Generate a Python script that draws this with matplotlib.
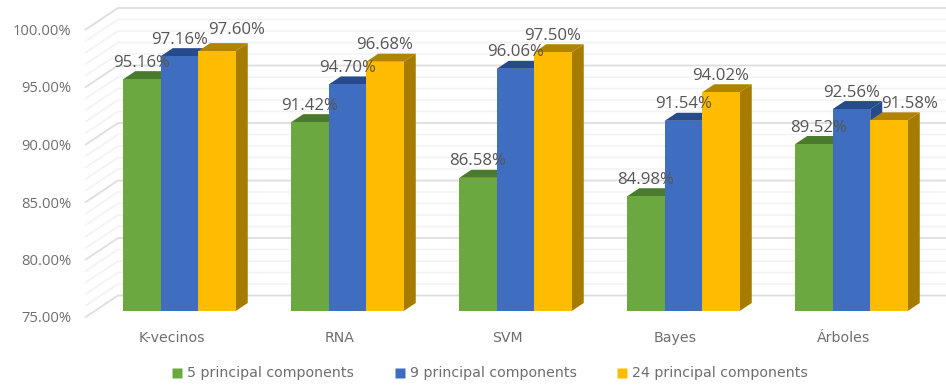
import matplotlib
matplotlib.use("Agg")
import matplotlib.pyplot as plt
from matplotlib.patches import Polygon

categories = ["K-vecinos", "RNA", "SVM", "Bayes", "Árboles"]
pc5 = [95.16, 91.42, 86.58, 84.98, 89.52]
pc9 = [97.16, 94.70, 96.06, 91.54, 92.56]
pc24 = [97.60, 96.68, 97.50, 94.02, 91.58]
series_names = ["5 principal components", "9 principal components", "24 principal components"]
y_ticks = [75, 80, 85, 90, 95, 100]

W, H = 946, 386
PX_X = 168.0     # pixels per category
PX_Y = 11.5      # pixels per percentage point
bar_w = 37.5 / PX_X
depth_x = 12 / PX_X
depth_y = 8 / PX_Y

# front, top, side
colors = [("#6BA83F", "#4A7A2C", "#4A7A2C"),
          ("#3F6EC0", "#264A8C", "#264A8C"),
          ("#FFBC00", "#B08300", "#A67C00")]
text_grey = "#6E6E6E"
label_grey = "#555555"

plt.rcParams["font.family"] = ["Open Sans", "DejaVu Sans"]

fig = plt.figure(figsize=(W / 100, H / 100), dpi=100)
ax = fig.add_axes([0, 0, 1, 1])
ax.set_xlim(-179.5 / PX_X, (W - 179.5) / PX_X)
ax.set_ylim(75 - (H - 311) / PX_Y, 100 + 23.5 / PX_Y)
ax.axis("off")

# back wall and side wall grid
wall_x = (118 - 179.5) / PX_X
edge_x = (85 - 179.5) / PX_X
right_x = (W - 179.5) / PX_X
wall_dy = 15.5 / PX_Y
edge_dy = -6.5 / PX_Y
for v in range(75, 101):
    major = v % 5 == 0
    c = "#DEDEDE" if major else "#F2F2F2"
    lw = 1.3 if major else 1.1
    ax.plot([edge_x, wall_x, right_x], [v + edge_dy, v + wall_dy, v + wall_dy],
            color=c, lw=lw, zorder=1, solid_capstyle="butt")

# bars, drawn left to right so the later series overlap the earlier ones
for s, vals in enumerate([pc5, pc9, pc24]):
    front, top, side = colors[s]
    for i, v in enumerate(vals):
        x0 = i + (s - 1.5) * bar_w
        x1 = x0 + bar_w
        z = 2 + i + s * 0.1
        ax.add_patch(Polygon([(x0, v), (x1, v), (x1 + depth_x, v + depth_y), (x0 + depth_x, v + depth_y)],
                             facecolor=top, edgecolor="none", zorder=z))
        ax.add_patch(Polygon([(x1, 75), (x1 + depth_x, 75 + depth_y), (x1 + depth_x, v + depth_y), (x1, v)],
                             facecolor=side, edgecolor="none", zorder=z))
        ax.bar(x0, v - 75, bar_w, bottom=75, align="edge", color=front, zorder=z)

# value labels, a few are nudged off their bar to stay readable
nudge = {(2, 0): (20, 5), (2, 4): (21, 0), (0, 4): (5, 0)}
for s, vals in enumerate([pc5, pc9, pc24]):
    for i, v in enumerate(vals):
        nx, ny = nudge.get((s, i), (0, 0))
        x = i + (s - 1) * bar_w + nx / PX_X
        y = v + (16.5 + ny) / PX_Y
        ax.text(x, y, f"{v:.2f}%", ha="center", va="center", fontsize=12.1,
                color=label_grey, zorder=20)

for v in y_ticks:
    ax.text((71 - 179.5) / PX_X, v - 8 / PX_Y, f"{v:.2f}%", ha="right", va="center",
            fontsize=10.6, color=text_grey)

for i, name in enumerate(categories):
    ax.text(i - 8 / PX_X, 75 - 27 / PX_Y, name, ha="center", va="center", fontsize=10.2,
            color=text_grey, family=["DejaVu Sans"])

# legend placed by hand under the axis
legend_x = [172, 395, 617]
for s, name in enumerate(series_names):
    lx = (legend_x[s] - 179.5) / PX_X
    ly = 75 - 62 / PX_Y
    ax.plot([lx + 5 / PX_X], [ly], marker="s", ms=7, color=colors[s][0], mec="none")
    ax.text(lx + 15 / PX_X, ly, name, ha="left", va="center", fontsize=10.2,
            color=text_grey, family=["DejaVu Sans"])

fig.savefig("out.png", dpi=100)
